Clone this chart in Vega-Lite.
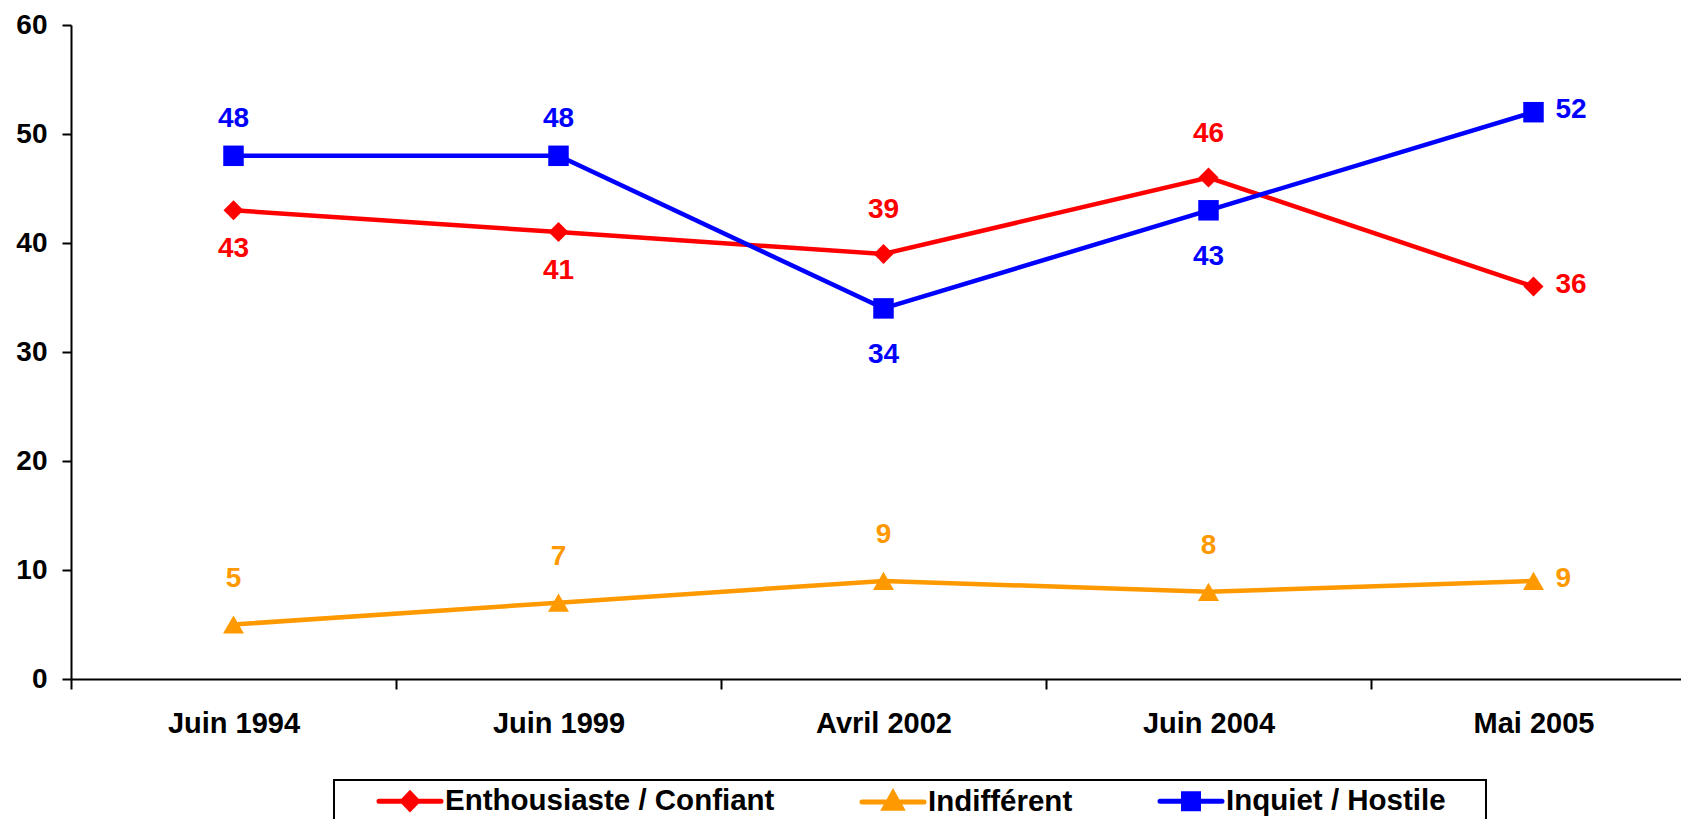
{
  "$schema": "https://vega.github.io/schema/vega-lite/v6.json",
  "width": 1610,
  "height": 654,
  "autosize": {"type": "none"},
  "padding": {"left": 71, "top": 25, "right": 0, "bottom": 140},
  "background": "white",
  "config": {
    "view": {"stroke": null},
    "font": "Liberation Sans",
    "axis": {"labelFont": "Liberation Sans", "labelFontWeight": "bold", "labelColor": "black", "domainColor": "black", "tickColor": "black", "domainWidth": 2, "tickWidth": 2, "grid": false},
    "text": {"fontSize": 28, "fontWeight": "bold", "font": "Liberation Sans", "baseline": "middle", "align": "center"}
  },
  "data": {"values": [
    {"date": "Juin 1994", "series": "Enthousiaste / Confiant", "value": 43},
    {"date": "Juin 1999", "series": "Enthousiaste / Confiant", "value": 41},
    {"date": "Avril 2002", "series": "Enthousiaste / Confiant", "value": 39},
    {"date": "Juin 2004", "series": "Enthousiaste / Confiant", "value": 46},
    {"date": "Mai 2005", "series": "Enthousiaste / Confiant", "value": 36},
    {"date": "Juin 1994", "series": "Indifférent", "value": 5},
    {"date": "Juin 1999", "series": "Indifférent", "value": 7},
    {"date": "Avril 2002", "series": "Indifférent", "value": 9},
    {"date": "Juin 2004", "series": "Indifférent", "value": 8},
    {"date": "Mai 2005", "series": "Indifférent", "value": 9},
    {"date": "Juin 1994", "series": "Inquiet / Hostile", "value": 48},
    {"date": "Juin 1999", "series": "Inquiet / Hostile", "value": 48},
    {"date": "Avril 2002", "series": "Inquiet / Hostile", "value": 34},
    {"date": "Juin 2004", "series": "Inquiet / Hostile", "value": 43},
    {"date": "Mai 2005", "series": "Inquiet / Hostile", "value": 52}
  ]},
  "encoding": {
    "x": {
      "field": "date", "type": "nominal",
      "sort": ["Juin 1994", "Juin 1999", "Avril 2002", "Juin 2004", "Mai 2005"],
      "scale": {"type": "band", "paddingInner": 0, "paddingOuter": 0, "range": [0, 1625]},
      "axis": {"title": null, "labelAngle": 0, "tickBand": "extent", "tickSize": 10, "labelFontSize": 29, "labelPadding": 20}
    },
    "y": {
      "field": "value", "type": "quantitative",
      "scale": {"domain": [0, 60], "nice": false},
      "axis": {"title": null, "values": [0, 10, 20, 30, 40, 50, 60], "tickSize": 9, "labelFontSize": 28, "labelPadding": 15}
    },
    "color": {
      "field": "series", "type": "nominal",
      "scale": {"domain": ["Enthousiaste / Confiant", "Indifférent", "Inquiet / Hostile"], "range": ["#FF0000", "#FF9900", "#0000FF"]},
      "legend": {
        "title": null, "orient": "none", "legendX": 263, "legendY": 755, "direction": "horizontal",
        "strokeColor": "black", "fillColor": "white", "padding": 6,
        "labelFontSize": 29.5, "labelFont": "Liberation Sans", "labelFontWeight": "bold", "labelColor": "black", "labelLimit": 0,
        "labelExpr": "datum.label === 'Inquiet / Hostile' ? datum.label + '\u2009\u2009\u2800' : datum.label",
        "symbolSize": 625, "symbolStrokeWidth": 5, "symbolOffset": 55, "labelOffset": 20, "columnPadding": 48,
        "symbolType": "M-2.48,0H2.48",
        "encode": {
          "legend": {"update": {"strokeWidth": {"value": 2}}},
          "symbols": {"update": {
            "shape": {"signal": "datum.value === 'Enthousiaste / Confiant' ? 'M-2.48,0H2.48M-0.6,0L0,-0.62L0.6,0L0,0.62Z' : datum.value === 'Indifférent' ? 'M-2.48,0H2.48M-0.68,0.5L0,-0.7L0.68,0.5Z' : 'M-2.48,0H2.48M-0.6,-0.6H0.6V0.6H-0.6Z'"},
            "fill": {"signal": "scale('color', datum.value)"},
            "stroke": {"signal": "scale('color', datum.value)"},
            "strokeWidth": {"value": 5},
            "strokeCap": {"value": "round"},
            "strokeJoin": {"value": "miter"},
            "opacity": {"value": 1}
          }}
        }
      }
    }
  },
  "layer": [
    {"mark": {"type": "line", "strokeWidth": 4.5}},
    {
      "transform": [{"filter": "datum.series === 'Enthousiaste / Confiant'"}],
      "mark": {"type": "point", "filled": true, "size": 400, "opacity": 1, "shape": "diamond"}
    },
    {
      "transform": [{"filter": "datum.series === 'Indifférent'"}],
      "mark": {"type": "point", "filled": true, "size": 440, "opacity": 1, "shape": "triangle-up"}
    },
    {
      "transform": [{"filter": "datum.series === 'Inquiet / Hostile'"}],
      "mark": {"type": "point", "filled": true, "size": 420, "opacity": 1, "shape": "square"}
    },
    {
      "transform": [{"filter": "datum.series === 'Enthousiaste / Confiant' && (datum.date === 'Avril 2002' || datum.date === 'Juin 2004')"}],
      "mark": {"type": "text", "dy": -44},
      "encoding": {"text": {"field": "value", "type": "quantitative"}}
    },
    {
      "transform": [{"filter": "datum.series === 'Enthousiaste / Confiant' && (datum.date === 'Juin 1994' || datum.date === 'Juin 1999')"}],
      "mark": {"type": "text", "dy": 39},
      "encoding": {"text": {"field": "value", "type": "quantitative"}}
    },
    {
      "transform": [{"filter": "datum.series === 'Indifférent' && datum.date !== 'Mai 2005'"}],
      "mark": {"type": "text", "dy": -46},
      "encoding": {"text": {"field": "value", "type": "quantitative"}}
    },
    {
      "transform": [{"filter": "datum.series === 'Inquiet / Hostile' && (datum.date === 'Juin 1994' || datum.date === 'Juin 1999')"}],
      "mark": {"type": "text", "dy": -37},
      "encoding": {"text": {"field": "value", "type": "quantitative"}}
    },
    {
      "transform": [{"filter": "datum.series === 'Inquiet / Hostile' && (datum.date === 'Avril 2002' || datum.date === 'Juin 2004')"}],
      "mark": {"type": "text", "dy": 47},
      "encoding": {"text": {"field": "value", "type": "quantitative"}}
    },
    {
      "transform": [{"filter": "datum.date === 'Mai 2005'"}],
      "mark": {"type": "text", "dx": 22, "dy": -2, "align": "left"},
      "encoding": {"text": {"field": "value", "type": "quantitative"}}
    }
  ]
}
